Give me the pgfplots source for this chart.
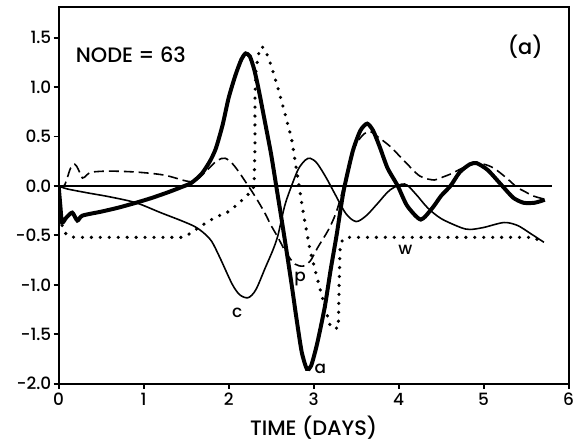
\documentclass[border=0pt]{standalone}
\usepackage{fontspec}
\setmainfont{Poppins Medium}
\usepackage{pgfplots}
\pgfplotsset{compat=1.18}
\begin{document}
\begin{tikzpicture}
\begin{axis}[name=ax, scale only axis, width=256.5pt, height=189.5pt,
  xmin=0, xmax=6, ymin=-2, ymax=1.81,
  axis line style={line width=1pt},
  xtick={0,1,2,3,4,5,6}, ytick={-2,-1.5,-1,-0.5,0,0.5,1,1.5},
  tick align=outside, tick pos=left, major tick length=2.5pt,
  tick style={line width=1pt, black},
  /pgf/number format/assume math mode=true,
  yticklabel style={/pgf/number format/fixed, /pgf/number format/fixed zerofill,
    /pgf/number format/precision=1, inner sep=1pt},
  xticklabel style={inner sep=2pt},
  every tick label/.append style={font=\fontsize{8.5}{9}\selectfont},
  xlabel={TIME (DAYS)},
  xlabel style={font=\fontsize{10.5}{11}\selectfont, inner sep=1pt, yshift=-2pt},
]
% zero line
\addplot[black, line width=0.8pt] coordinates {(0,0) (5.8,0)};
% a : thick solid
\addplot[black, line width=2pt, smooth, tension=0.4] coordinates {
(0,0) (0.02,-0.2) (0.04,-0.37) (0.09,-0.32) (0.16,-0.27) (0.22,-0.35) (0.28,-0.30)
(0.5,-0.26) (0.7,-0.22) (0.91,-0.17) (1.1,-0.12) (1.3,-0.06) (1.45,-0.01) (1.56,0.03)
(1.68,0.12) (1.78,0.25) (1.85,0.38) (1.93,0.62) (2.0,0.89) (2.08,1.12) (2.15,1.28)
(2.2,1.34) (2.25,1.31) (2.3,1.18) (2.35,0.99) (2.42,0.68) (2.5,0.32) (2.56,0.0)
(2.62,-0.32) (2.68,-0.65) (2.74,-0.99) (2.8,-1.35) (2.86,-1.68) (2.92,-1.85)
(2.97,-1.82) (3.04,-1.6) (3.13,-1.23) (3.2,-0.85) (3.27,-0.5) (3.32,-0.22) (3.36,-0.02)
(3.46,0.35) (3.55,0.56) (3.63,0.63) (3.7,0.56) (3.78,0.39) (3.87,0.18) (3.99,0.0)
(4.1,-0.2) (4.26,-0.34) (4.4,-0.22) (4.5,-0.1) (4.61,0.0) (4.72,0.14) (4.84,0.22)
(4.92,0.23) (5.05,0.16) (5.22,0.0) (5.35,-0.12) (5.47,-0.17) (5.6,-0.17) (5.72,-0.14)
};
% c : thin solid
\addplot[black, line width=0.8pt, smooth, tension=0.5] coordinates {
(0,0) (0.1,-0.03) (0.34,-0.07) (0.6,-0.11) (0.91,-0.17) (1.2,-0.27) (1.44,-0.35)
(1.6,-0.41) (1.7,-0.47) (1.8,-0.56) (1.9,-0.73) (2.04,-0.99) (2.13,-1.1) (2.23,-1.13)
(2.32,-1.05) (2.43,-0.83) (2.52,-0.65) (2.58,-0.5) (2.66,-0.2) (2.74,0.0) (2.82,0.17)
(2.9,0.26) (2.96,0.28) (3.04,0.23) (3.15,0.08) (3.25,-0.08) (3.38,-0.28) (3.5,-0.36)
(3.62,-0.3) (3.75,-0.18) (3.9,-0.04) (4.07,0.02) (4.2,-0.08) (4.34,-0.22) (4.5,-0.33)
(4.73,-0.42) (4.84,-0.44) (5.0,-0.42) (5.24,-0.37) (5.4,-0.4) (5.55,-0.48) (5.71,-0.57)
};
% p : dashed
\addplot[black, line width=0.8pt, smooth, tension=0.5, dash pattern=on 5pt off 2.5pt] coordinates {
(0,0) (0.06,0.0) (0.09,0.05) (0.14,0.18) (0.19,0.22) (0.23,0.17) (0.28,0.08) (0.33,0.11)
(0.39,0.14) (0.6,0.15) (0.92,0.14) (1.24,0.11) (1.5,0.05) (1.6,0.05) (1.7,0.12)
(1.77,0.18) (1.87,0.26) (1.96,0.28) (2.05,0.22) (2.13,0.13) (2.2,0.04) (2.27,-0.05)
(2.35,-0.16) (2.43,-0.28) (2.5,-0.4) (2.58,-0.52) (2.68,-0.68) (2.78,-0.79) (2.88,-0.81)
(2.96,-0.76) (3.05,-0.62) (3.17,-0.45) (3.26,-0.28) (3.34,-0.05) (3.44,0.3) (3.52,0.45)
(3.6,0.53) (3.67,0.55) (3.75,0.5) (3.9,0.4) (4.07,0.25) (4.25,0.1) (4.42,0.06)
(4.52,0.09) (4.61,0.12) (4.75,0.18) (4.88,0.22) (5.0,0.22) (5.12,0.18) (5.27,0.08)
(5.4,-0.02) (5.47,-0.05) (5.58,-0.1) (5.7,-0.13)
};
% w : dotted
\addplot[black, line width=1.8pt, line cap=round, dash pattern=on 0pt off 4.5pt] coordinates {
(0.04,-0.4) (0.07,-0.47) (0.12,-0.51) (0.2,-0.52) (1.45,-0.52) (1.55,-0.48) (1.65,-0.42)
(1.74,-0.37) (1.86,-0.31) (1.98,-0.27) (2.1,-0.19) (2.2,-0.11) (2.27,-0.05) (2.3,0.0)
(2.31,0.4) (2.31,0.9) (2.32,1.15) (2.35,1.33) (2.39,1.41) (2.43,1.38) (2.5,1.22)
(2.58,0.99) (2.66,0.74) (2.74,0.48) (2.82,0.05) (2.88,-0.28) (2.96,-0.66) (3.09,-1.09)
(3.2,-1.43) (3.29,-1.44) (3.3,-1.0) (3.31,-0.65) (3.34,-0.54) (3.42,-0.52) (5.58,-0.52)
(5.68,-0.56)
};
\node[font=\fontsize{10.5}{11}\selectfont] at (axis cs:0.85,1.33) {NODE = 63};
\node[font=\fontsize{10.5}{11}\selectfont] at (axis cs:5.49,1.41) {(a)};
\node[font=\fontsize{8.5}{9}\selectfont] at (axis cs:2.1,-1.28) {c};
\node[font=\fontsize{8.5}{9}\selectfont] at (axis cs:2.84,-0.94) {p};
\node[font=\fontsize{8.5}{9}\selectfont] at (axis cs:3.08,-1.85) {a};
\node[font=\fontsize{8.5}{9}\selectfont] at (axis cs:4.08,-0.65) {w};
\end{axis}
\path ([xshift=-29.5pt,yshift=-27.5pt]ax.south west) rectangle ([xshift=3pt,yshift=3.5pt]ax.north east);
\end{tikzpicture}
\end{document}
